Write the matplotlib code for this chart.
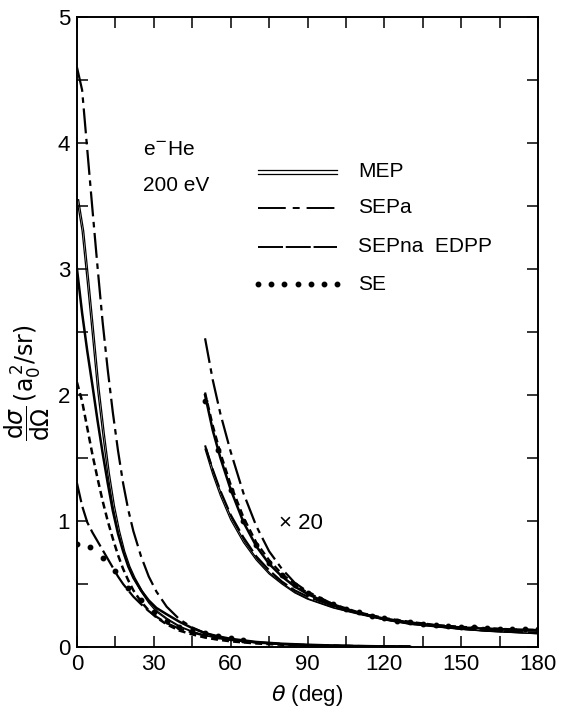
import numpy as np
import matplotlib
matplotlib.use("Agg")
import matplotlib.pyplot as plt
import matplotlib.transforms as mtransforms

plt.rcParams['font.family'] = ['Liberation Sans', 'DejaVu Sans']
plt.rcParams['mathtext.fontset'] = 'dejavusans'
plt.rcParams['lines.scale_dashes'] = False

# ---------------- data ----------------
# small-angle region (actual values, a0^2/sr)
theta_small = [0, 2, 4, 6, 8, 10, 12, 14, 16, 18, 20, 22, 25, 28, 31, 35, 40, 45,
               50, 55, 60, 70, 80, 90, 100, 110, 120, 130]
sepa_small = [4.6, 4.42, 3.95, 3.48, 3.02, 2.58, 2.2, 1.86, 1.56, 1.3, 1.09, 0.92,
              0.72, 0.56, 0.44, 0.32, 0.22, 0.155, 0.11, 0.08, 0.06, 0.035, 0.022,
              0.015, 0.01, 0.007, 0.005, 0.004]
mep_small = [3.55, 3.3, 2.9, 2.48, 2.05, 1.7, 1.38, 1.12, 0.92, 0.76, 0.64, 0.55,
             0.44, 0.35, 0.28, 0.22, 0.16, 0.12, 0.09, 0.07, 0.054, 0.034, 0.022,
             0.015, 0.01, 0.007, 0.005, 0.003]
solid_small = [3.0, 2.65, 2.35, 2.08, 1.8, 1.54, 1.3, 1.08, 0.9, 0.76, 0.64, 0.55,
               0.45, 0.37, 0.31, 0.26, 0.2, 0.15, 0.11, 0.085, 0.065, 0.04, 0.026,
               0.018, 0.012, 0.008, 0.005, 0.003]
sdash_small = [2.1, 1.95, 1.74, 1.53, 1.34, 1.16, 1.0, 0.86, 0.73, 0.62, 0.53, 0.45,
               0.36, 0.29, 0.235, 0.18, 0.13, 0.1, 0.075, 0.058, 0.045, 0.028, 0.018,
               0.012, 0.008, 0.005, 0.004, 0.003]
sepna_small = [1.3, 1.12, 0.99, 0.91, 0.84, 0.77, 0.7, 0.63, 0.56, 0.5, 0.45, 0.4,
               0.34, 0.285, 0.24, 0.19, 0.145, 0.115, 0.09, 0.072, 0.058, 0.037,
               0.024, 0.016, 0.011, 0.008, 0.005, 0.004]
theta_se_small = [0, 5, 10, 15, 20, 25, 30, 35, 40, 45, 50, 55, 60, 65]
se_small = [0.82, 0.79, 0.71, 0.6, 0.47, 0.37, 0.28, 0.21, 0.16, 0.13, 0.11, 0.09,
            0.07, 0.055]

# large-angle region (values x20)
theta_large = [50, 53, 56, 60, 65, 70, 75, 80, 85, 90, 100, 110, 120, 130, 140, 150,
               160, 170, 180]
sepa_large = [2.45, 2.12, 1.85, 1.55, 1.22, 0.96, 0.76, 0.62, 0.51, 0.44, 0.34, 0.27,
              0.22, 0.19, 0.17, 0.155, 0.145, 0.14, 0.135]
solid_large = [2.0, 1.72, 1.5, 1.25, 0.99, 0.8, 0.66, 0.56, 0.48, 0.42, 0.33, 0.27,
               0.225, 0.195, 0.17, 0.155, 0.145, 0.135, 0.13]
sdash_large = [2.02, 1.76, 1.54, 1.29, 1.03, 0.83, 0.69, 0.58, 0.5, 0.43, 0.34, 0.275,
               0.23, 0.2, 0.175, 0.16, 0.15, 0.14, 0.135]
mep_large = [1.57, 1.37, 1.2, 1.01, 0.83, 0.69, 0.58, 0.5, 0.43, 0.38, 0.31, 0.26,
             0.215, 0.18, 0.16, 0.14, 0.125, 0.115, 0.105]
sepna_large = [1.6, 1.41, 1.24, 1.05, 0.87, 0.72, 0.61, 0.52, 0.45, 0.4, 0.325, 0.27,
               0.225, 0.19, 0.165, 0.145, 0.13, 0.12, 0.115]
theta_se_large = [50, 55, 60, 65, 70, 75, 80, 85, 90, 95, 100, 105, 110, 115, 120,
                  125, 130, 135, 140, 145, 150, 155, 160, 165, 170, 175, 180]
se_large = [1.95, 1.56, 1.25, 1.0, 0.81, 0.67, 0.57, 0.49, 0.43, 0.38, 0.34, 0.305,
            0.275, 0.25, 0.23, 0.21, 0.195, 0.185, 0.175, 0.165, 0.16, 0.155, 0.15,
            0.145, 0.14, 0.14, 0.14]

x_ticks = [0, 30, 60, 90, 120, 150, 180]
y_ticks = [0, 1, 2, 3, 4, 5]
legend_labels = ['MEP', 'SEPa', 'SEPna  EDPP', 'SE']

# ---------------- figure ----------------
fig = plt.figure(figsize=(5.61, 7.17), dpi=100)
ax = fig.add_axes([77/561, 70/717, 461/561, 630/717])

DASHDOT = (0, (18, 4, 4, 4))
LDASH = (0, (14, 3.5))
SDASH = (0, (5, 3))
k = 'black'

off = mtransforms.ScaledTranslation(1.6/100, 0, fig.dpi_scale_trans)

def mep_plot(x, y):
    ax.plot(x, y, color=k, lw=0.9)
    ax.plot(x, y, color=k, lw=0.9, transform=ax.transData + off)

# small angles
ax.plot(theta_small, sepa_small, color=k, lw=1.6, ls=DASHDOT)
mep_plot(theta_small, mep_small)
ax.plot(theta_small, solid_small, color=k, lw=1.8)
ax.plot(theta_small, sdash_small, color=k, lw=1.8, ls=SDASH)
ax.plot(theta_small, sepna_small, color=k, lw=1.6, ls=LDASH)
ax.plot(theta_se_small, se_small, ls='none', marker='o', ms=3.2, color=k)

# large angles (x20)
ax.plot(theta_large, sepa_large, color=k, lw=1.6, ls=DASHDOT)
ax.plot(theta_large, solid_large, color=k, lw=1.8)
ax.plot(theta_large, sdash_large, color=k, lw=1.6, ls=SDASH)
mep_plot(theta_large, mep_large)
ax.plot(theta_large, sepna_large, color=k, lw=1.5, ls=LDASH)
ax.plot(theta_se_large, se_large, ls='none', marker='o', ms=3.2, color=k)

ax.set_xlim(0, 180)
ax.set_ylim(0, 5)
ax.set_xticks(x_ticks)
ax.set_xticks(np.arange(0, 181, 15), minor=True)
ax.set_yticks(y_ticks)
ax.set_yticks(np.arange(0, 5.01, 0.5), minor=True)
ax.set_xticklabels([str(t) for t in x_ticks])
ax.set_yticklabels([str(t) for t in y_ticks])
ax.tick_params(which='both', direction='in', top=True, right=True, length=8, width=1.1)
ax.tick_params(which='major', labelsize=16, pad=5)
for s in ax.spines.values():
    s.set_linewidth(1.4)

ax.set_xlabel(r'$\theta$ (deg)', fontsize=16, labelpad=6)
ax.set_ylabel(r'$\dfrac{\mathrm{d}\sigma}{\mathrm{d}\Omega}\,(\mathrm{a}_0^{\,2}/\mathrm{sr})$',
              fontsize=17)
ax.yaxis.set_label_coords(-0.055, 0.42)

# annotations
ax.text(0.143, 0.79, r'e$^{-}$He', transform=ax.transAxes, fontsize=15, va='center')
ax.text(0.143, 0.733, '200 eV', transform=ax.transAxes, fontsize=15, va='center')
ax.text(79, 0.98, '\u00d7 20', fontsize=16, va='center')

# legend
lx0, lx1 = 0.393, 0.564
ly = [0.754, 0.697, 0.635, 0.576]
tx = 0.61
ax.plot([lx0, lx1], [ly[0] + 0.0025] * 2, color=k, lw=0.9, transform=ax.transAxes)
ax.plot([lx0, lx1], [ly[0] - 0.0025] * 2, color=k, lw=0.9, transform=ax.transAxes)
ax.plot([lx0, lx1], [ly[1]] * 2, color=k, lw=1.4, ls=(0, (20, 5, 5, 5)), transform=ax.transAxes)
ax.plot([lx0, lx1], [ly[2]] * 2, color=k, lw=1.4, ls=(0, (18, 2)), transform=ax.transAxes)
ax.plot(np.linspace(lx0, lx1, 7), [ly[3]] * 7, ls='none', marker='o', ms=3.2, color=k,
        transform=ax.transAxes)
for lab, yy in zip(legend_labels, ly):
    ax.text(tx, yy, lab, transform=ax.transAxes, fontsize=15, va='center')

fig.savefig('out.png', dpi=100)
